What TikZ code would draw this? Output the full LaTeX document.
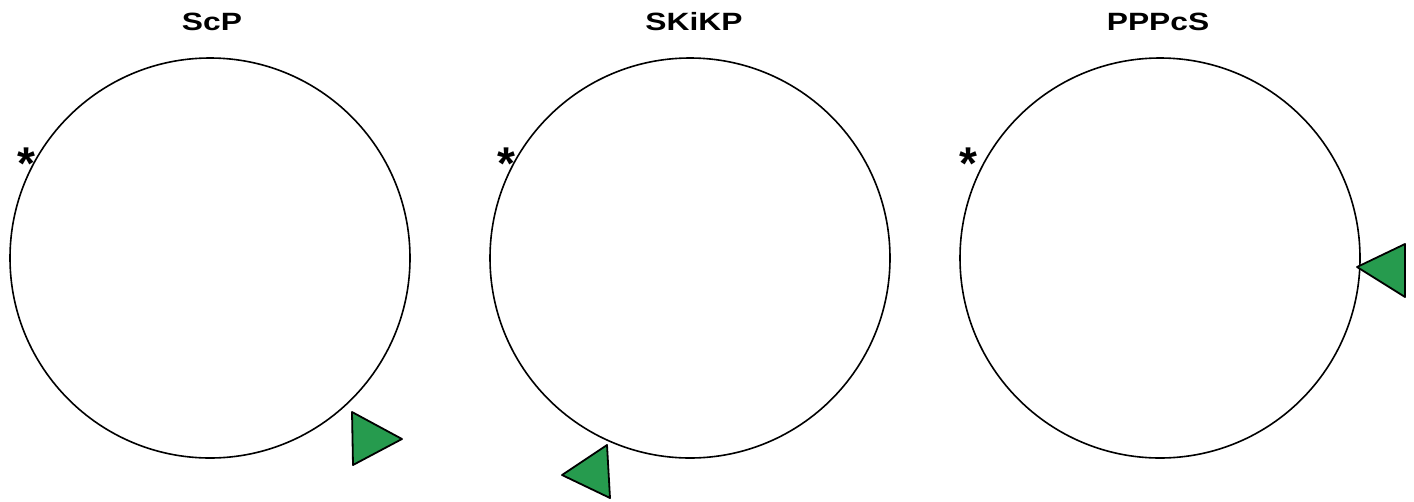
\documentclass[tikz,border=0pt]{standalone}
\usepackage{fontspec}
\setmainfont{Liberation Sans}
\newfontfamily\widebold[FakeStretch=1.27]{Liberation Sans Bold}
\definecolor{tri}{RGB}{38,155,78}
\begin{document}
\begin{tikzpicture}[x=1pt,y=-1pt,
  ring/.style={draw=black,line width=1.6pt},
  arrowtri/.style={draw=black,fill=tri,line width=1.8pt,line join=round},
  title/.style={font=\fontsize{25}{30}\selectfont\widebold,anchor=base,inner sep=0pt},
  star/.style={font=\fontsize{46}{46}\selectfont\bfseries,anchor=center,inner sep=0pt}]
\useasboundingbox (0,0) rectangle (1414,501);
\fill[white] (0,0) rectangle (1414,501);
% circles
\node[ring,circle,minimum size=400pt,inner sep=0pt] (c1) at (210,258) {};
\node[ring,circle,minimum size=400pt,inner sep=0pt] (c2) at (690,258) {};
\node[ring,circle,minimum size=400pt,inner sep=0pt] (c3) at (1160,258) {};
% titles
\node[title] (t1) at (212,30) {ScP};
\node[title] (t2) at (694,30) {SKiKP};
\node[title] (t3) at (1158,30) {PPPcS};
% asterisks
\node[star] (s1) at (26,164) {*};
\node[star] (s2) at (506,164) {*};
\node[star] (s3) at (968,164) {*};
% triangles
\draw[arrowtri] (352,412) -- (353,465) -- (402,439) -- cycle;
\draw[arrowtri] (607,445) -- (610,498) -- (562,475) -- cycle;
\draw[arrowtri] (1357,267) -- (1405,244) -- (1405,297) -- cycle;
\end{tikzpicture}
\end{document}
